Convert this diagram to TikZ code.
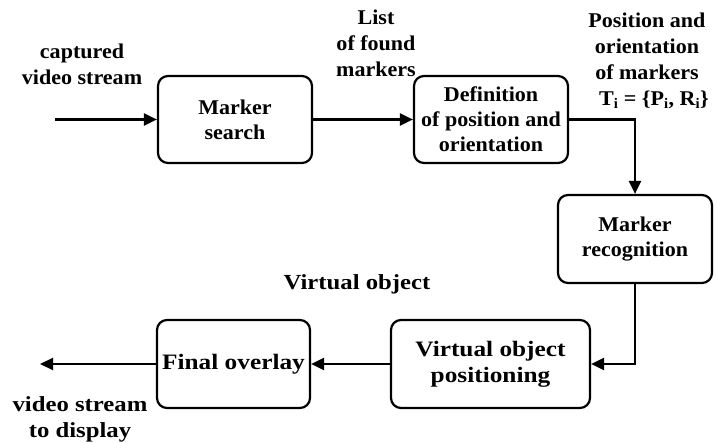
\documentclass[tikz,border=0pt]{standalone}
\usepackage{fontspec}
\setmainfont{Liberation Serif}
\newfontfamily\topboxf{Liberation Serif}[FakeStretch=1.05]
\newfontfamily\toplblf{Liberation Serif}[FakeStretch=1.05]
\newfontfamily\botf{Liberation Serif}[FakeStretch=1.15]
\usetikzlibrary{arrows.meta}
\begin{document}
\begin{tikzpicture}[x=1pt,y=-1pt,
  blk/.style={draw,line width=2.2pt,rounded corners=10pt,inner sep=0pt,font=\topboxf\bfseries\fontsize{21}{25}\selectfont,align=center},
  bblk/.style={blk,font=\botf\bfseries\fontsize{22}{26}\selectfont},
  lbl/.style={font=\toplblf\bfseries\fontsize{21}{26}\selectfont,align=center,inner sep=0pt},
  blbl/.style={lbl,font=\botf\bfseries\fontsize{21.5}{26}\selectfont},
  conn/.style={line width=2.2pt,-{Triangle[length=13pt,width=12pt]}}]
\useasboundingbox (0,0) rectangle (717,443);
\node[blk,minimum width=154pt,minimum height=87pt] (ms) at (235,119.5) {Marker\\search};
\node[blk,minimum width=154pt,minimum height=87pt] (def) at (491,119.5) {Definition\\of position and\\orientation};
\node[blk,minimum width=154pt,minimum height=88pt] (rec) at (635,239) {Marker\\recognition};
\node[bblk,minimum width=199pt,minimum height=88pt] (pos) at (490.5,364) {Virtual object\\positioning};
\node[bblk,minimum width=153pt,minimum height=88pt] (fin) at (233.5,364) {Final overlay};
\coordinate (in) at (55,119.5);
\coordinate (out) at (40,364);
\coordinate (c1) at (635,119.5);
\coordinate (c2) at (635,364);
\draw[conn] (in) -- (ms);
\draw[conn] (ms) -- (def);
\draw[conn] (def.east) -- (c1) -- (rec.north);
\draw[conn] (rec.south) -- (c2) -- (pos.east);
\draw[conn] (pos) -- (fin);
\draw[conn] (fin) -- (out);
\node[lbl] (l1) at (82,64) {captured\\video stream};
\node[lbl] (l2) at (376,43) {List\\of found\\markers};
\node[lbl] (l3) at (647,61) {Position and\\orientation\\of markers\\\hspace*{14pt}T$_\mathbf{i}$ = \{P$_\mathbf{i}$, R$_\mathbf{i}$\}};
\node[blbl] (l4) at (357,284) {Virtual object};
\node[blbl] (l5) at (80,419) {video stream\\to display};
\end{tikzpicture}
\end{document}
